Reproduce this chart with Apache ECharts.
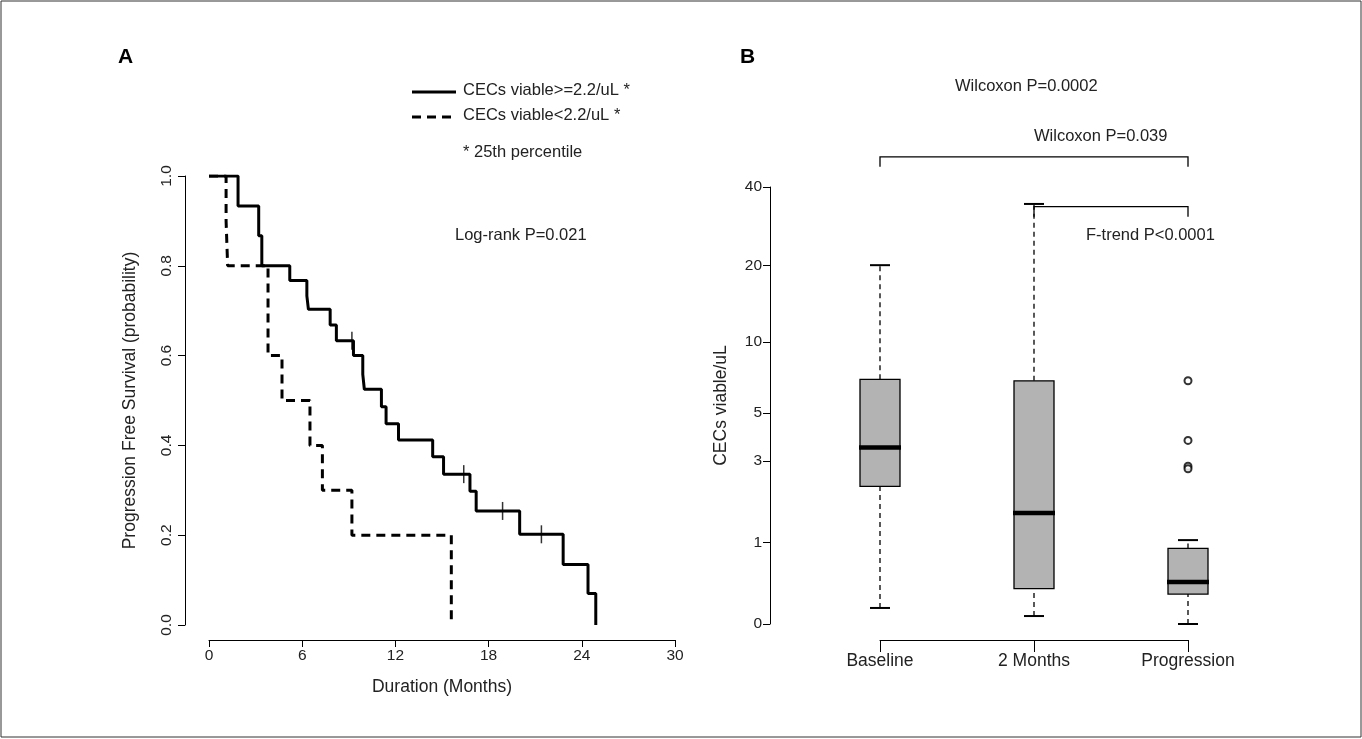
<!DOCTYPE html>
<html>
<head>
    <meta charset="utf-8">
    <script src="https://cdn.jsdelivr.net/npm/echarts@6/dist/echarts.min.js"></script>
</head>
<body style="margin:0">
    <div id="main" style="width:1362px;height:739px;"></div>
<script type="text/javascript">
    // panel A: Kaplan-Meier (time of drop, new survival level)
    var highTimes = [0, 1.87, 3.2, 3.4, 5.2, 6.3, 6.4, 7.8, 8.2, 9.3, 9.9, 10.0, 11.1, 11.4, 12.2, 14.4, 15.1, 16.8, 17.2, 20.0, 22.8, 24.4, 24.9];
    var highSurv = [1, 0.933, 0.867, 0.8, 0.767, 0.733, 0.703, 0.668, 0.633, 0.6, 0.558, 0.525, 0.486, 0.448, 0.412, 0.375, 0.336, 0.298, 0.254, 0.202, 0.135, 0.07, 0];
    var lowTimes = [0, 1.1, 1.2, 3.8, 4.7, 6.5, 7.3, 9.2, 15.6];
    var lowSurv = [1, 0.9, 0.8, 0.6, 0.5, 0.4, 0.3, 0.2, 0];
    var censorTimes = [9.2, 16.4, 18.9, 21.4];
    var censorSurv = [0.633, 0.336, 0.254, 0.202];

    // panel B: boxplot stats (raw CECs viable/uL): low whisker, q1, median, q3, high whisker
    var groups = ['Baseline', '2 Months', 'Progression'];
    var boxStats = [
        [0.146, 2.22, 3.48, 7.0, 20.1],
        [0.07, 0.35, 1.57, 6.9, 34.5],
        [0, 0.29, 0.43, 0.90, 1.04]
    ];
    var outliers = [[2, 6.9], [2, 3.76], [2, 2.82], [2, 2.74]];
    var yTicksB = [0, 1, 3, 5, 10, 20, 40];

    function tr(v) { return Math.log(v + 1); }

    function zip(a, b) { return a.map(function (v, i) { return [v, b[i]]; }); }

    var font = 'Liberation Sans, Arial, sans-serif';
    var chart = echarts.init(document.getElementById('main'));

    var option = {
        animation: false,
        backgroundColor: '#fff',
        textStyle: { fontFamily: font },
        grid: [
            { left: 209, right: 687, top: 176, bottom: 114 },
            { left: 880, right: 174, top: 187, bottom: 115 }
        ],
        xAxis: [{
            gridIndex: 0, type: 'value', min: 0, max: 30, interval: 6, offset: 15,
            name: 'Duration (Months)', nameLocation: 'middle', nameGap: 38,
            nameTextStyle: { fontSize: 17.5, color: '#222', fontFamily: font },
            axisLine: { onZero: false, lineStyle: { color: '#000', width: 1 } },
            axisTick: { length: 7, lineStyle: { color: '#000' } },
            axisLabel: { color: '#222', fontSize: 15.5, margin: 8 },
            splitLine: { show: false }
        }, {
            gridIndex: 1, type: 'category', data: groups, boundaryGap: false, offset: 16,
            axisLine: { onZero: false, lineStyle: { color: '#000', width: 1 } },
            axisTick: { length: 12, lineStyle: { color: '#000' } },
            axisLabel: { color: '#222', fontSize: 17.5, margin: 12 }
        }],
        yAxis: [{
            gridIndex: 0, type: 'value', min: 0, max: 1, interval: 0.2, offset: 24,
            name: 'Progression Free Survival (probability)', nameLocation: 'middle', nameGap: 46,
            nameTextStyle: { fontSize: 17.5, color: '#222', fontFamily: font },
            axisLine: { show: true, onZero: false, lineStyle: { color: '#000', width: 1 } },
            axisTick: { show: true, length: 7, lineStyle: { color: '#000' } },
            axisLabel: { color: '#222', fontSize: 15.5, rotate: 90, margin: 10,
                formatter: function (v) { return v.toFixed(1); } },
            splitLine: { show: false }
        }, {
            gridIndex: 1, type: 'value', min: 0, max: tr(40), offset: 110,
            name: 'CECs viable/uL', nameLocation: 'middle', nameGap: 40,
            nameTextStyle: { fontSize: 17.5, color: '#222', fontFamily: font },
            axisLine: { show: true, onZero: false, lineStyle: { color: '#000', width: 1 } },
            axisTick: { show: true, length: 7, lineStyle: { color: '#000' },
                customValues: yTicksB.map(tr) },
            axisLabel: { color: '#222', fontSize: 15.5, margin: 8,
                customValues: yTicksB.map(tr),
                formatter: function (v) { return String(Math.round(Math.exp(v) - 1)); } },
            splitLine: { show: false }
        }],
        series: [{
            type: 'line', xAxisIndex: 0, yAxisIndex: 0, step: 'end', symbol: 'none',
            data: zip(highTimes, highSurv),
            lineStyle: { color: '#000', width: 3 }
        }, {
            type: 'line', xAxisIndex: 0, yAxisIndex: 0, step: 'end', symbol: 'none',
            data: zip(lowTimes, lowSurv),
            lineStyle: { color: '#000', width: 3, type: [9, 6] }
        }, {
            type: 'scatter', xAxisIndex: 0, yAxisIndex: 0, symbol: 'rect', symbolSize: [1.5, 18],
            itemStyle: { color: '#000' },
            data: zip(censorTimes, censorSurv)
        }, {
            type: 'custom', xAxisIndex: 1, yAxisIndex: 1,
            data: boxStats.map(function (s, i) { return [i].concat(s.map(tr)); }),
            renderItem: function (params, api) {
                var x = api.value(0);
                var p = [1, 2, 3, 4, 5].map(function (k) { return api.coord([x, api.value(k)]); });
                var cx = p[0][0], hw = 20, cw = 10;
                return {
                    type: 'group', children: [
                        { type: 'line', shape: { x1: cx, y1: p[0][1], x2: cx, y2: p[1][1] },
                          style: { stroke: '#000', lineWidth: 1.3, lineDash: [5, 4] } },
                        { type: 'line', shape: { x1: cx, y1: p[3][1], x2: cx, y2: p[4][1] },
                          style: { stroke: '#000', lineWidth: 1.3, lineDash: [5, 4] } },
                        { type: 'line', shape: { x1: cx - cw, y1: p[0][1], x2: cx + cw, y2: p[0][1] },
                          style: { stroke: '#000', lineWidth: 2 } },
                        { type: 'line', shape: { x1: cx - cw, y1: p[4][1], x2: cx + cw, y2: p[4][1] },
                          style: { stroke: '#000', lineWidth: 2 } },
                        { type: 'rect', shape: { x: cx - hw, y: p[3][1], width: hw * 2, height: p[1][1] - p[3][1] },
                          style: { fill: '#b3b3b3', stroke: '#000', lineWidth: 1.3 } },
                        { type: 'line', shape: { x1: cx - hw - 1, y1: p[2][1], x2: cx + hw + 1, y2: p[2][1] },
                          style: { stroke: '#000', lineWidth: 4.5 } }
                    ]
                };
            }
        }, {
            type: 'scatter', xAxisIndex: 1, yAxisIndex: 1, symbol: 'emptyCircle', symbolSize: 7,
            itemStyle: { color: '#000', borderWidth: 1.5 },
            data: outliers.map(function (o) { return [o[0], tr(o[1])]; })
        }, {
            // significance brackets
            type: 'custom', xAxisIndex: 1, yAxisIndex: 1, clip: false,
            data: [[0, 2, 3.97, 3.885], [1, 2, 3.546, 3.46]],
            renderItem: function (params, api) {
                var a = api.coord([api.value(0), api.value(2)]);
                var b = api.coord([api.value(1), api.value(2)]);
                var d = api.coord([api.value(0), api.value(3)]);
                return {
                    type: 'polyline',
                    shape: { points: [[a[0], d[1]], a, b, [b[0], d[1]]] },
                    style: { stroke: '#000', lineWidth: 1.3, fill: 'none' }
                };
            }
        }],
        graphic: [
            { type: 'rect', shape: { x: 1, y: 1, width: 1360, height: 736 },
              style: { fill: 'none', stroke: '#333', lineWidth: 1 } },
            { type: 'text', left: 118, top: 47, style: { text: 'A', font: 'bold 21px ' + font, fill: '#000' } },
            { type: 'text', left: 740, top: 47, style: { text: 'B', font: 'bold 21px ' + font, fill: '#000' } },
            { type: 'line', shape: { x1: 412, y1: 92, x2: 456, y2: 92 }, style: { stroke: '#000', lineWidth: 3 } },
            { type: 'line', shape: { x1: 412, y1: 117, x2: 456, y2: 117 }, style: { stroke: '#000', lineWidth: 3, lineDash: [9, 6] } },
            { type: 'text', left: 463, top: 82, style: { text: 'CECs viable>=2.2/uL *', font: '16.5px ' + font, fill: '#222' } },
            { type: 'text', left: 463, top: 107, style: { text: 'CECs viable<2.2/uL *', font: '16.5px ' + font, fill: '#222' } },
            { type: 'text', left: 463, top: 144, style: { text: '* 25th percentile', font: '16.5px ' + font, fill: '#222' } },
            { type: 'text', left: 455, top: 227, style: { text: 'Log-rank P=0.021', font: '16.5px ' + font, fill: '#222' } },
            { type: 'text', left: 955, top: 78, style: { text: 'Wilcoxon P=0.0002', font: '16.5px ' + font, fill: '#222' } },
            { type: 'text', left: 1034, top: 128, style: { text: 'Wilcoxon P=0.039', font: '16.5px ' + font, fill: '#222' } },
            { type: 'text', left: 1086, top: 227, style: { text: 'F-trend P<0.0001', font: '16.5px ' + font, fill: '#222' } }
        ]
    };
    chart.setOption(option);
</script>
</body>
</html>
